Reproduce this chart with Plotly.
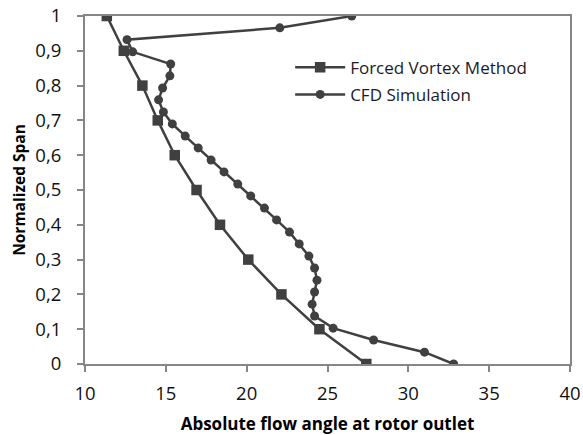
import plotly.graph_objects as go

# Forced Vortex Method (squares)
fv_angle = [11.35, 12.4, 13.55, 14.5, 15.55, 16.9, 18.35, 20.1, 22.15, 24.5, 27.4]
fv_span = [1.0, 0.9, 0.8, 0.7, 0.6, 0.5, 0.4, 0.3, 0.2, 0.1, 0.0]

# CFD Simulation (circles)
cfd_angle = [26.5, 22.05, 12.6, 12.95, 15.3, 15.25, 14.8, 14.55, 14.85, 15.4,
             16.2, 17.0, 17.8, 18.6, 19.45, 20.25, 21.1, 21.85, 22.65, 23.25,
             23.85, 24.2, 24.35, 24.2, 24.05, 24.2, 25.35, 27.85, 31.0, 32.8]
cfd_span = [1.0, 0.966, 0.932, 0.897, 0.862, 0.828, 0.793, 0.759, 0.724, 0.69,
            0.655, 0.621, 0.586, 0.552, 0.517, 0.483, 0.448, 0.414, 0.379, 0.345,
            0.31, 0.276, 0.241, 0.207, 0.172, 0.138, 0.103, 0.069, 0.034, 0.0]

x_ticks = [10, 15, 20, 25, 30, 35, 40]
y_ticks = [0, 0.1, 0.2, 0.3, 0.4, 0.5, 0.6, 0.7, 0.8, 0.9, 1.0]
y_ticktext = ["0", "0,1", "0,2", "0,3", "0,4", "0,5", "0,6", "0,7", "0,8", "0,9", "1"]

LINE = "#404040"
AXIS = "#868686"
FONT = "Open Sans"

fig = go.Figure()
fig.add_trace(go.Scatter(
    x=fv_angle, y=fv_span, mode="lines+markers", name="Forced Vortex Method",
    legendgroup="a",
    line=dict(color=LINE, width=2.5),
    marker=dict(symbol="square", size=10.5, color=LINE),
))
fig.add_trace(go.Scatter(
    x=cfd_angle, y=cfd_span, mode="lines+markers", name="CFD Simulation",
    legendgroup="b",
    line=dict(color=LINE, width=2.5),
    marker=dict(symbol="circle", size=9, color=LINE),
))

fig.update_layout(
    width=583, height=435,
    margin=dict(l=85, r=13, t=15.5, b=70.5, autoexpand=False),
    paper_bgcolor="white", plot_bgcolor="white",
    font=dict(family=FONT, size=17, color="#111111"),
    showlegend=True,
    legend=dict(
        x=0.423, y=0.903, xanchor="left", yanchor="top",
        bgcolor="rgba(0,0,0,0)", borderwidth=0,
        font=dict(family=FONT, size=17, color="#1a1a2a"),
        itemwidth=50, traceorder="grouped", tracegroupgap=2,
    ),
    xaxis=dict(
        range=[10, 40], tickvals=x_ticks, ticktext=[str(v) for v in x_ticks],
        showgrid=False, zeroline=False, automargin=False,
        showline=True, linecolor=AXIS, linewidth=2, mirror=True,
        ticks="outside", ticklen=6, tickwidth=2, tickcolor=AXIS,
        ticklabelstandoff=6,
        tickfont=dict(family=FONT, size=18.5, color="#111111"),
        title=dict(text="<b>Absolute flow angle at rotor outlet</b>",
                   font=dict(family=FONT, size=17, color="#000000")),
    ),
    yaxis=dict(
        range=[0, 1], tickvals=y_ticks, ticktext=y_ticktext,
        showgrid=False, zeroline=False, automargin=False,
        showline=True, linecolor=AXIS, linewidth=2, mirror=True,
        ticks="outside", ticklen=6, tickwidth=2, tickcolor=AXIS,
        ticklabelstandoff=12,
        tickfont=dict(family=FONT, size=18.5, color="#111111"),
        title=dict(text="<b>Normalized Span</b>", standoff=6,
                   font=dict(family=FONT, size=15.5, color="#000000")),
    ),
)

fig.write_html("out.html")
